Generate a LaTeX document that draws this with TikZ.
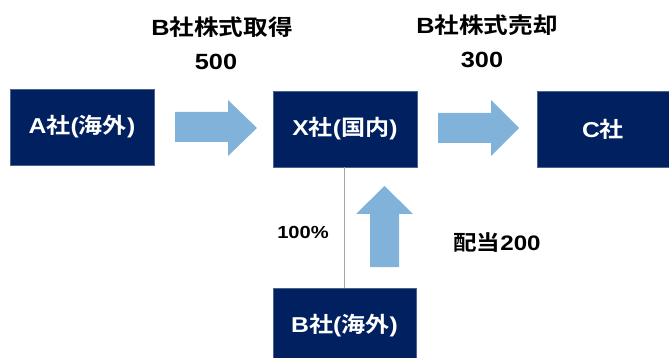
\documentclass[tikz,border=0pt]{standalone}
\usepackage{fontspec}
\setmainfont{Liberation Sans}[FakeStretch=1.15]
\newfontfamily\jp{Noto Sans CJK JP}[BoldFont={* Bold}, FakeStretch=1.12]
\definecolor{navy}{RGB}{0,32,96}
\definecolor{flowblue}{RGB}{128,178,218}

\begin{document}
\begin{tikzpicture}[x=1pt, y=-1pt]

    % Set the canvas size
    \useasboundingbox (0,0) rectangle (669,358);

    % Define styles
    \tikzset{
        company/.style={fill=navy, draw=navy!70!white, line width=0.4pt, text=white,
            minimum width=144pt, minimum height=76pt, inner sep=0pt,
            font=\fontsize{21.5}{21.5}\selectfont\bfseries},
        flow/.style={fill=flowblue, draw=none},
        label/.style={font=\fontsize{22}{22}\selectfont\bfseries},
        share/.style={gray!70, line width=0.8pt},
    }

    % Companies
    \node[company] (aco) at (82,127) {A{\jp 社}({\jp 海外})};
    \node[company] (xco) at (345,129) {X{\jp 社}({\jp 国内})};
    \node[company, minimum width=132pt] (cco) at (603,129) {C{\jp 社}};
    \node[company, minimum width=143pt] (bco) at (344.5,326) {B{\jp 社}({\jp 海外})};

    % Shareholding line
    \draw[share] (xco.south -| 344,0) -- (bco.north -| 344,0);
    \node[font=\fontsize{17.5}{17.5}\selectfont\bfseries] (pct) at (303,232) {100\%};

    % Block arrows
    \fill[flow] (175,112) -- (228,112) -- (228,100) -- (257,128) -- (228,156)
        -- (228,142) -- (175,142) -- cycle;
    \fill[flow] (438,113) -- (491,113) -- (491,100) -- (519,128) -- (491,156)
        -- (491,143) -- (438,143) -- cycle;
    \fill[flow] (370,267) -- (370,214) -- (356,214) -- (384.5,186) -- (413,214)
        -- (399,214) -- (399,267) -- cycle;

    % Labels
    \node[label] (buy) at (222,27) {B{\jp 社株式取得}};
    \node[label] (buyamt) at (216,62) {500};
    \node[label] (sell) at (487,25) {B{\jp 社株式売却}};
    \node[label] (sellamt) at (482,60) {300};
    \node[label, font=\fontsize{21}{21}\selectfont\bfseries] (div) at (497,243) {{\jp 配当}200};

\end{tikzpicture}
\end{document}
